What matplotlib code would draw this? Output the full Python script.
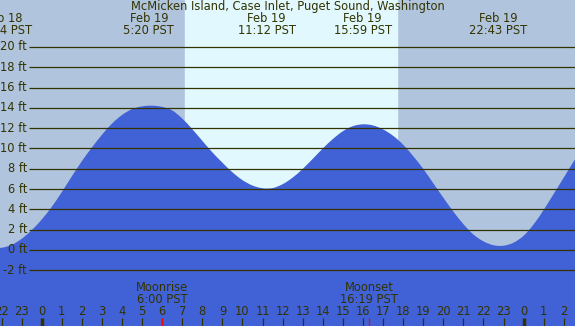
import numpy as np
import matplotlib
matplotlib.use("Agg")
import matplotlib.pyplot as plt
from matplotlib.path import Path
from matplotlib.patches import PathPatch

# tide height (ft) every half hour, hours from Feb 19 00:00 PST
hours = np.arange(-2.5, 27.01, 0.5)
tide = [0.24, 0.22, 0.5, 1.1, 1.95, 3.0, 4.25, 5.7, 7.25, 8.75,
        10.1, 11.35, 12.45, 13.3, 13.88, 14.15, 14.22, 14.1, 13.75, 12.95,
        11.9, 10.75, 9.62, 8.6, 7.65, 6.88, 6.35, 6.08, 6.1, 6.48,
        7.13, 7.99, 8.98, 10.0, 10.93, 11.7, 12.2, 12.38, 12.27, 11.88,
        11.25, 10.38, 9.25, 8.0, 6.58, 5.16, 3.79, 2.55, 1.53, 0.85,
        0.47, 0.42, 0.72, 1.4, 2.52, 3.95, 5.53, 7.13, 8.74, 10.1]

sunrise = 7.14
sunset = 17.69

event_hours = [-1.93, 5.333, 11.2, 15.983, 22.717]
event_dates = ["Feb 18", "Feb 19", "Feb 19", "Feb 19", "Feb 19"]
event_times = ["22:04 PST", "5:20 PST", "11:12 PST", "15:59 PST", "22:43 PST"]

moon_hours = [6.0, 16.317]
moon_names = ["Moonrise", "Moonset"]
moon_times = ["6:00 PST", "16:19 PST"]

ft_levels = list(range(-2, 21, 2))
tick_hours = list(range(-2, 27))

title = "McMicken Island, Case Inlet, Puget Sound, Washington"

night = "#b0c4de"
day = "#e0f8fe"
water = "#4161d7"
ink = "#333300"
fs = 8.3

fig = plt.figure(figsize=(5.75, 3.26), dpi=100)
ax = fig.add_axes([0, 0, 1, 1])
x0, x1 = -2.077, 26.56
y0, y1 = -7.49, 24.63
ax.set_xlim(x0, x1)
ax.set_ylim(y0, y1)
ax.axis('off')

ax.axvspan(x0, x1, color=night, zorder=0)
ax.axvspan(sunrise, sunset, color=day, zorder=0)

# smooth water surface: bezier curve through the half-hour points
pts = np.column_stack([hours, tide])
verts = [(hours[0], y0 - 1), tuple(pts[0])]
codes = [Path.MOVETO, Path.LINETO]
for i in range(len(pts) - 1):
    p_prev = pts[max(i - 1, 0)]
    p0, p1 = pts[i], pts[i + 1]
    p_next = pts[min(i + 2, len(pts) - 1)]
    verts += [tuple(p0 + (p1 - p_prev) / 6), tuple(p1 - (p_next - p0) / 6), tuple(p1)]
    codes += [Path.CURVE4] * 3
verts += [(hours[-1], y0 - 1), (hours[0], y0 - 1)]
codes += [Path.LINETO, Path.CLOSEPOLY]
ax.add_patch(PathPatch(Path(verts, codes), facecolor=water, lw=0, zorder=1))

line_start = -0.63
ax.hlines(ft_levels, line_start, x1, color=ink, lw=0.9, zorder=2)
for v in ft_levels:
    ax.text(line_start - 0.1, v, f"{v} ft", ha='right', va='center',
            fontsize=fs, color=ink, zorder=3)

ax.text((x0 + x1) / 2, 23.95, title, ha='center', va='center',
        fontsize=fs, color=ink)
for h, d, t in zip(event_hours, event_dates, event_times):
    ax.text(h, 22.76, d, ha='center', va='center', fontsize=fs, color=ink)
    ax.text(h, 21.6, t, ha='center', va='center', fontsize=fs, color=ink)

for h in tick_hours:
    ax.text(h, -6.05, str(h % 24), ha='center', va='center',
            fontsize=fs, color=ink)
    w = 2.5 if h % 24 == 0 else 0.9
    ax.vlines(h, -6.72, y0, color=ink, lw=w)

for h, n, t in zip(moon_hours, moon_names, moon_times):
    ax.text(h, -3.7, n, ha='center', va='center', fontsize=fs, color=ink)
    ax.text(h, -4.85, t, ha='center', va='center', fontsize=fs, color=ink)
    ax.vlines(h, -6.72, y0, color='red', lw=0.9, zorder=4)

fig.savefig("out.png", dpi=100)
